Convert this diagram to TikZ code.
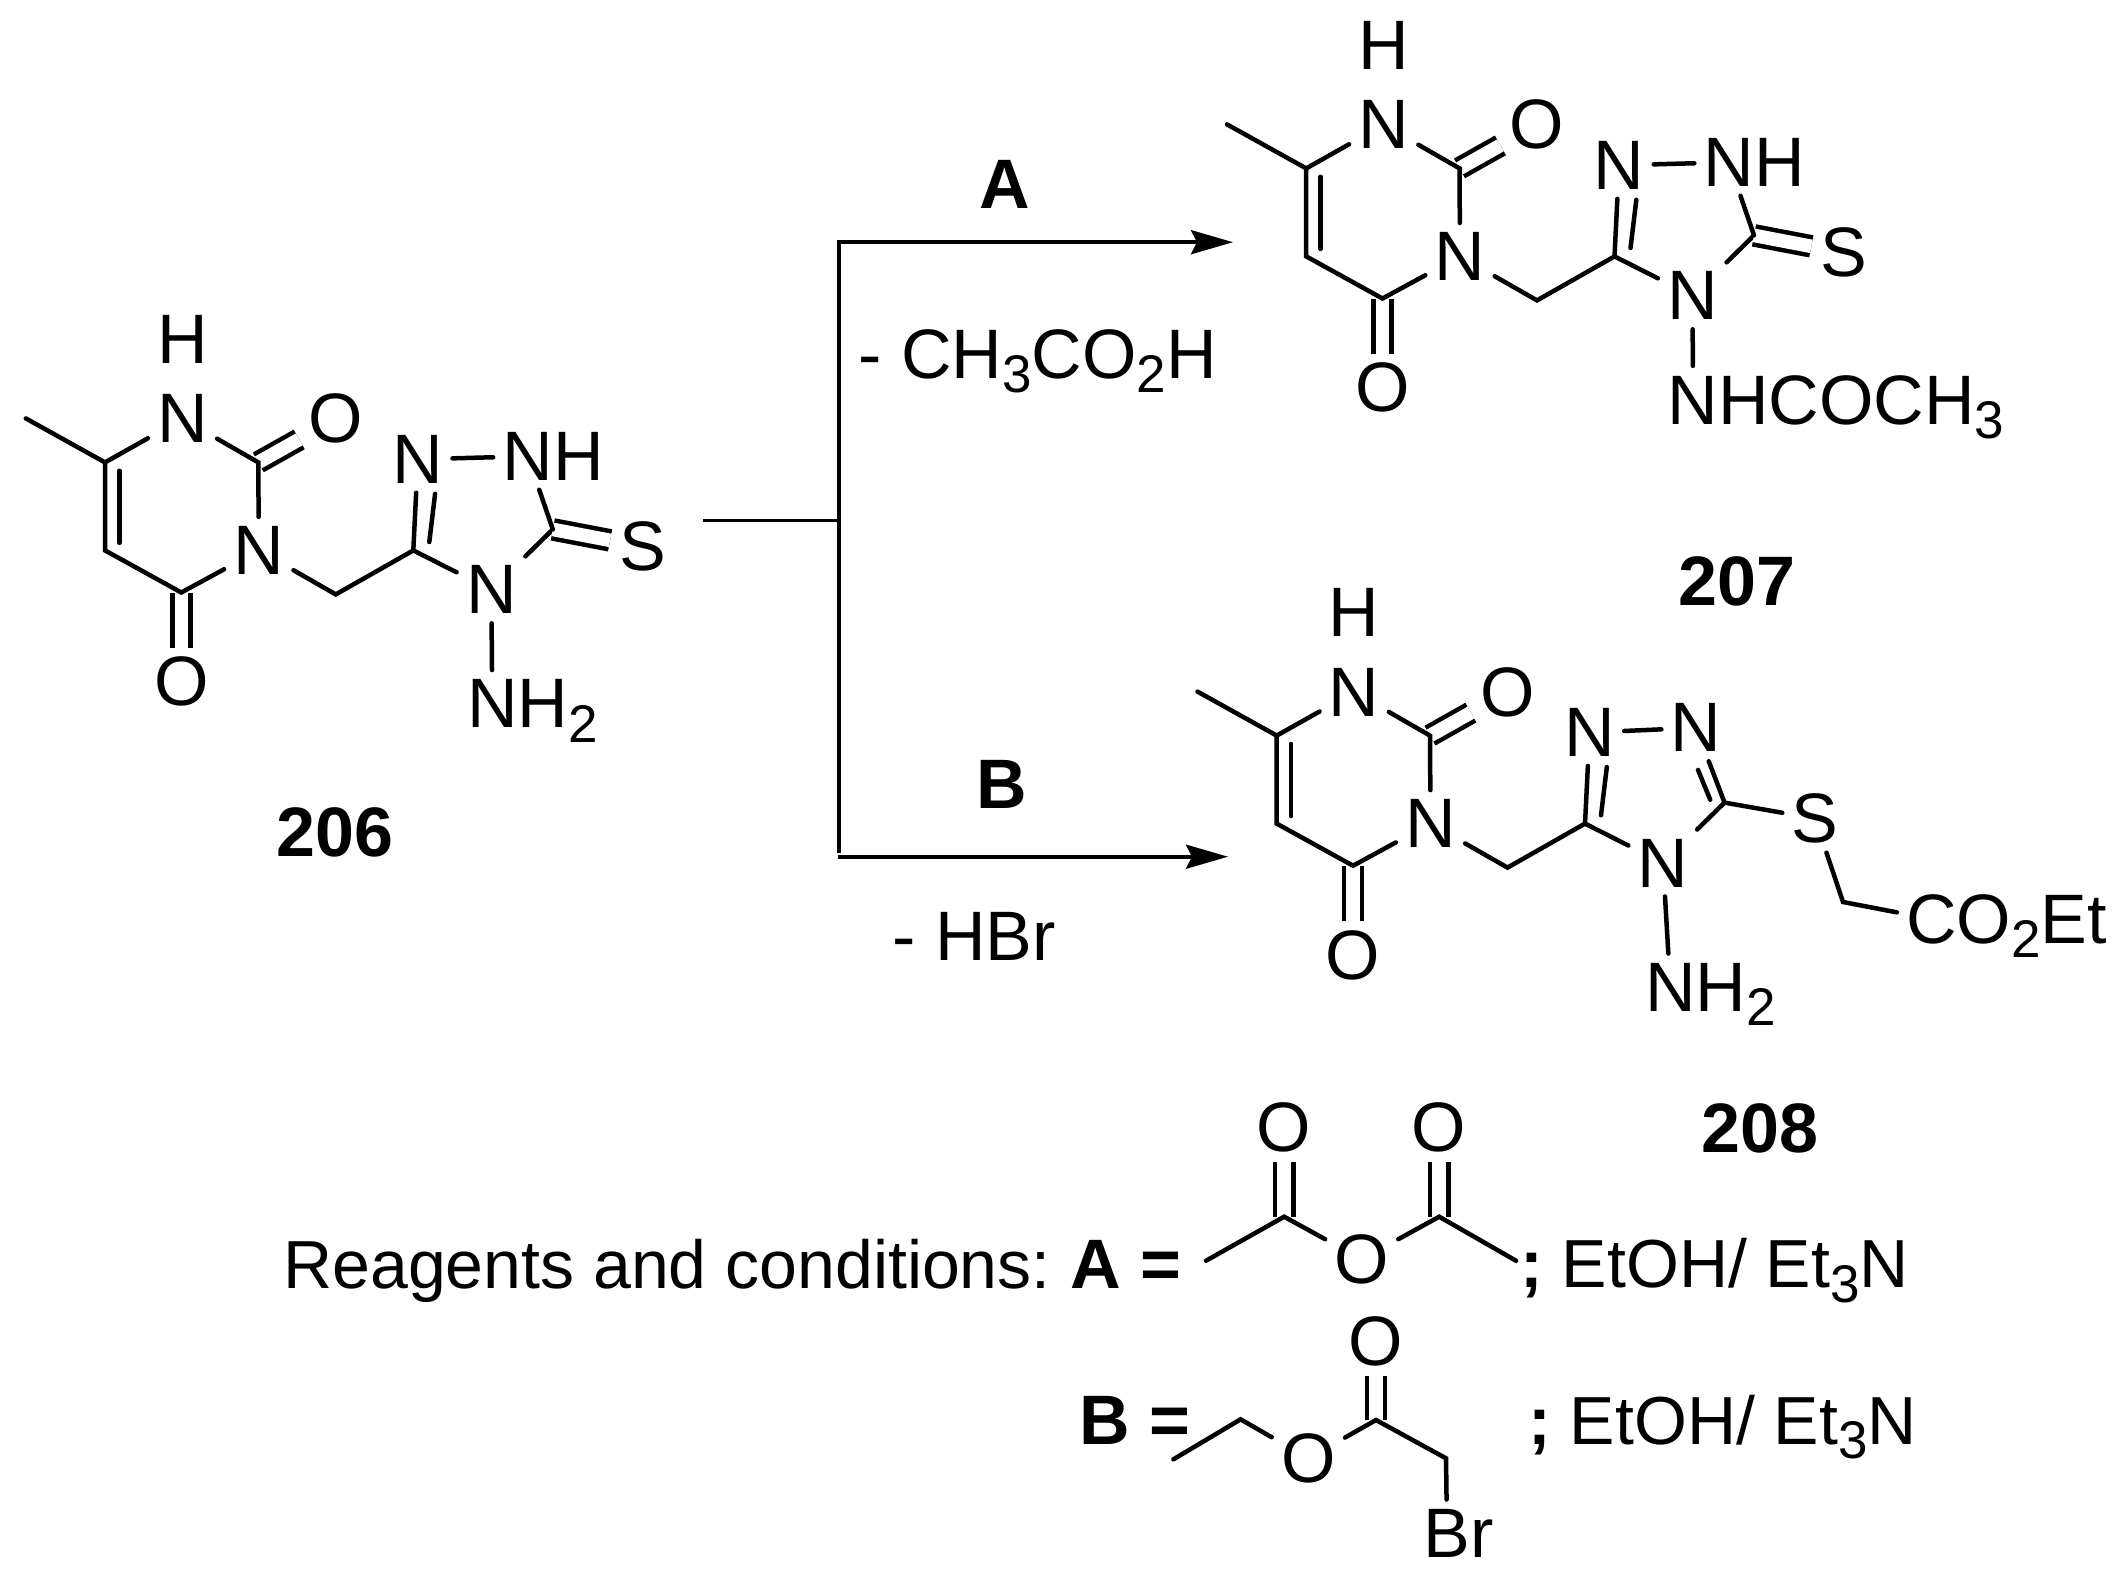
\documentclass[tikz,border=0pt]{standalone}
\usepackage{fontspec}
\setmainfont{Liberation Sans}
\usetikzlibrary{arrows.meta}
\newcommand\chemsub[1]{\raisebox{-7.4pt}[0pt][0pt]{\fontsize{26.5}{26.5}\selectfont #1}}
\tikzset{
  atom/.style={inner sep=4.5pt,font=\fontsize{35}{35}\selectfont},
  label/.style={inner sep=0pt,font=\fontsize{35}{35}\selectfont},
  narrowlabel/.style={inner sep=0pt,font=\fontsize{34}{35}\selectfont},
  boldlabel/.style={inner sep=0pt,font=\fontsize{35}{35}\selectfont\bfseries},
  bond/.style={line width=2.25pt,line cap=round,line join=miter},
  dbl/.style={line width=2.25pt,double,double distance=6.8pt},
  rxn/.style={line width=1.9pt},
  rxnarrow/.style={line width=1.9pt,-{Stealth[length=21pt,width=12pt,inset=3pt]}}
}
\newcommand\uracilcore{%
  \coordinate (me) at (1227,124.4);
  \coordinate (c6) at (1306.2,168.4);
  \coordinate (c5) at (1306.2,256.4);
  \coordinate (c4) at (1382.5,298.5);
  \coordinate (c2) at (1459.5,168.4);
  \coordinate (ch) at (1537,300.4);
  \coordinate (c3) at (1614.5,256.4);
  \coordinate (ct) at (1754,235.4);
  \coordinate (i1) at (1320.6,176.8);
  \coordinate (i2) at (1320.6,248.8);
  \coordinate (i3) at (1630.5,248);
  \coordinate (i4) at (1636.3,199.8);
  \node[atom] (n1) at (1383.7,124.8) {N};
  \node[atom] (h1) at (1383.7,45.2) {H};
  \node[atom] (o2) at (1537,124.8) {O};
  \node[atom] (n3) at (1460,256.4) {N};
  \node[atom] (o4) at (1382.5,387.7) {O};
  \node[atom] (n2) at (1619,165.3) {N};
  \node[atom] (n4) at (1692.5,295.8) {N};
  \draw[dbl] (c2) -- (o2);
  \draw[dbl] (c4) -- (o4);
  \draw[bond] (me) -- (c6) -- (n1);
  \draw[bond] (n1) -- (c2) -- (n3);
  \draw[bond] (n3) -- (c4) -- (c5) -- (c6);
  \draw[bond] (i1) -- (i2);
  \draw[bond] (n3) -- (ch) -- (c3) -- (n2);
  \draw[bond] (i3) -- (i4);
  \draw[bond] (c3) -- (n4);
  \draw[bond] (n4) -- (ct);
}
\begin{document}
\begin{tikzpicture}[x=0.5pt,y=-0.5pt]
\useasboundingbox (0,0) rectangle (2128,1590);

% 206
\begin{scope}[shift={(-1201.2,294)},name prefix=a-]
  \uracilcore
  \node[atom] (nb) at (1729,162.3) {N\rlap{H}};
  \node[atom] (s) at (1844,252.6) {S};
  \node[atom] (nh) at (1693.5,409.5) {N\rlap{H\chemsub{2}}};
  \draw[dbl] (ct) -- (s);
  \draw[bond] (n2) -- (nb);
  \draw[bond] (nb) -- (ct);
  \draw[bond] (n4) -- (nh);
\end{scope}
\node[boldlabel,anchor=base] (t206) at (335,856) {206};

% 207
\begin{scope}[name prefix=b-]
  \uracilcore
  \node[atom] (nb) at (1729,162.3) {N\rlap{H}};
  \node[atom] (s) at (1844,252.6) {S};
  \node[atom] (nh) at (1693,400) {N\rlap{HCOCH\chemsub{3}}};
  \draw[dbl] (ct) -- (s);
  \draw[bond] (n2) -- (nb);
  \draw[bond] (nb) -- (ct);
  \draw[bond] (n4) -- (nh);
\end{scope}
\node[boldlabel,anchor=base] (t207) at (1737,605) {207};

% 208
\begin{scope}[shift={(-29.5,567.2)},name prefix=c-]
  \uracilcore
  \node[atom] (nb) at (1725.5,160.6) {N};
  \node[atom] (s) at (1844.5,251.3) {S};
  \node[atom] (nh) at (1699.8,419.8) {N\rlap{H\chemsub{2}}};
  \node[atom] (co) at (1961,351.8) {C\rlap{O\chemsub{2}Et}};
  \coordinate (cb) at (1872.5,334.8);
  \coordinate (i5) at (1727.5,202.7);
  \coordinate (i6) at (1739.7,232.5);
  \draw[bond] (n2) -- (nb);
  \draw[bond] (nb) -- (ct);
  \draw[bond] (i5) -- (i6);
  \draw[bond] (ct) -- (s);
  \draw[bond] (s) -- (cb) -- (co);
  \draw[bond] (n4) -- (nh);
\end{scope}
\node[boldlabel,anchor=base] (t208) at (1760,1152) {208};

% reaction scheme
\coordinate (start) at (703,520.4);
\coordinate (junction) at (838.8,520.4);
\coordinate (top) at (838.8,243);
\coordinate (bottom) at (838.8,853);
\coordinate (topl) at (837,242.2);
\coordinate (topr) at (1233,242.2);
\coordinate (botl) at (837.7,856.7);
\coordinate (botr) at (1228,856.7);
\draw[rxn] (start) -- (junction);
\draw[rxn] (top) -- (bottom);
\draw[rxnarrow] (topl) -- (topr);
\draw[rxnarrow] (botl) -- (botr);
\node[boldlabel,anchor=base] (la) at (1004.5,208.9) {A};
\node[boldlabel,anchor=base] (lb) at (1001.5,808.3) {B};
\node[label,anchor=base west] (l1) at (858,378) {- CH\chemsub{3}CO\chemsub{2}H};
\node[label,anchor=base west] (l2) at (892,960) {- HBr};

% reagents A
\node[narrowlabel,anchor=base west] (rc) at (283,1288) {Reagents and conditions:};
\node[boldlabel,anchor=base west] (ra0) at (1070,1288) {A =};
\coordinate (am1) at (1206,1260.7);
\coordinate (ac1) at (1284.2,1216.7);
\coordinate (ac2) at (1439.2,1216.7);
\coordinate (am2) at (1516,1260.7);
\node[atom] (ao1) at (1284.2,1127.7) {O};
\node[atom] (ao2) at (1439.2,1127.7) {O};
\node[atom] (aoe) at (1361.7,1259.3) {O};
\draw[dbl] (ac1) -- (ao1);
\draw[dbl] (ac2) -- (ao2);
\draw[bond] (am1) -- (ac1) -- (aoe);
\draw[bond] (aoe) -- (ac2) -- (am2);
\node[narrowlabel,anchor=base west] (ra) at (1520,1287.3) {\textbf{;} EtOH/ Et\chemsub{3}N};

% reagents B
\node[boldlabel,anchor=base west] (rb) at (1079.4,1444) {B =};
\coordinate (bm) at (1173.4,1459.3);
\coordinate (bc1) at (1240.6,1419.3);
\coordinate (bc2) at (1376,1420);
\coordinate (bc3) at (1446,1458.3);
\node[atom] (boe) at (1308.3,1458.3) {O};
\node[atom] (bo) at (1376,1341.7) {O};
\node[atom] (bbr) at (1447,1533) {B\rlap{r}};
\draw[dbl] (bc2) -- (bo);
\draw[bond] (bm) -- (bc1) -- (boe);
\draw[bond] (boe) -- (bc2) -- (bc3) -- (bbr);
\node[narrowlabel,anchor=base west] (rb2) at (1528,1444) {\textbf{;} EtOH/ Et\chemsub{3}N};
\end{tikzpicture}
\end{document}
